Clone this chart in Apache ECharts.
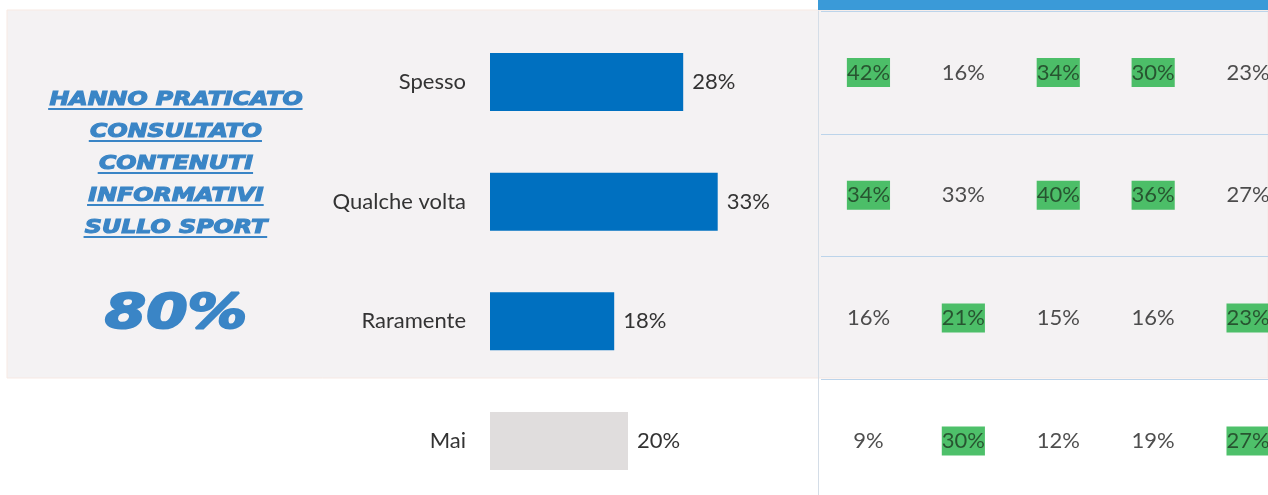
<!DOCTYPE html>
<html>
<head>
<meta charset="utf-8">
<script src="https://cdn.jsdelivr.net/npm/echarts@6/dist/echarts.min.js"></script>
<style>
  html, body { margin: 0; padding: 0; background: #fff; }
  #main { width: 1268px; height: 495px; }
</style>
</head>
<body>
<div id="main"></div>
<script>
// dati del grafico
var categorie = ['Spesso', 'Qualche volta', 'Raramente', 'Mai'];
var valori = [28, 33, 18, 20];
var titoloRighe = ['HANNO PRATICATO', 'CONSULTATO', 'CONTENUTI', 'INFORMATIVI', 'SULLO SPORT'];
var totale = '80%';

// tabella a destra: una riga per categoria, cinque colonne
var tabella = [
  [42, 16, 34, 30, 23],
  [34, 33, 40, 36, 27],
  [16, 21, 15, 16, 23],
  [9, 30, 12, 19, 27]
];
var evidenziati = [
  [1, 0, 1, 1, 0],
  [1, 0, 1, 1, 0],
  [0, 1, 0, 0, 1],
  [0, 1, 0, 0, 1]
];

var myChart = echarts.init(document.getElementById('main'));

/* misura del testo per le sottolineature */
var ctx = document.createElement('canvas').getContext('2d');
var fontTitolo = 'italic bold 19px "DejaVu Sans"';
ctx.font = fontTitolo;

var blu = '#3a85c6';
var grafica = [
  { type: 'rect', z: -10, shape: { x: 7, y: 10, width: 1261, height: 368 },
    style: { fill: '#f4f2f3', stroke: '#f7e9e3', lineWidth: 1 } },
  { type: 'rect', z: -9, shape: { x: 818, y: 0, width: 450, height: 10 },
    style: { fill: '#3a9ad8' } }
];
titoloRighe.forEach(function (t, i) {
  var w = ctx.measureText(t).width;
  grafica.push({
    type: 'group', x: 176, y: 100 + i * 32, scaleX: 1.25,
    children: [
      { type: 'text', style: { text: t, x: 0, y: 0, align: 'center', verticalAlign: 'middle',
          font: fontTitolo, fill: blu, stroke: blu, lineWidth: 1.1 } },
      { type: 'rect', shape: { x: -w / 2 - 1, y: 8, width: w + 1, height: 2 }, style: { fill: blu } }
    ]
  });
});
grafica.push({
  type: 'text', x: 176, y: 316, scaleX: 1.24,
  style: { text: totale, align: 'center', verticalAlign: 'middle',
    font: 'italic bold 48px "DejaVu Sans"', fill: blu, stroke: blu, lineWidth: 2 }
});

/* dati tabella */
var datiTabella = [];
tabella.forEach(function (riga, r) {
  riga.forEach(function (v, c) {
    var item = { value: [c, r, v] };
    if (evidenziati[r][c]) {
      item.label = { backgroundColor: '#22b045', color: '#1e3a22', padding: [4, 0, 3, 0] };
    }
    datiTabella.push(item);
  });
});

var option = {
  animation: false,
  graphic: grafica,
  grid: [
    { left: 490, top: 82, width: 690, height: 359 },
    { left: 821, top: 11, width: 447, height: 484 }
  ],
  xAxis: [
    { gridIndex: 0, type: 'value', min: 0, max: 100, show: false },
    { gridIndex: 1, type: 'value', min: -0.5, max: 4.21, show: false }
  ],
  yAxis: [
    {
      gridIndex: 0, type: 'category', inverse: true, data: categorie, boundaryGap: false,
      axisLine: { show: false }, axisTick: { show: false },
      axisLabel: { margin: 24, fontSize: 22, color: '#333', fontFamily: 'Lato' }
    },
    {
      gridIndex: 1, type: 'value', inverse: true, min: -0.5, max: 3.44, interval: 1, offset: 3,
      axisLine: { show: true, onZero: false, lineStyle: { color: '#d4dde7', width: 1 } },
      axisTick: { show: false }, axisLabel: { show: false },
      splitLine: { show: true, lineStyle: { color: '#bcd4ea', width: 1 } }
    }
  ],
  series: [
    {
      type: 'bar', xAxisIndex: 0, yAxisIndex: 0, barWidth: 58,
      data: valori.map(function (v, i) {
        return { value: v, itemStyle: { color: i === 3 ? '#e0dddd' : '#0070c0' } };
      }),
      label: { show: true, position: 'right', distance: 9, formatter: '{c}%',
        fontSize: 22, color: '#333', fontFamily: 'Lato' }
    },
    {
      type: 'scatter', xAxisIndex: 1, yAxisIndex: 1, symbolSize: 1,
      itemStyle: { color: 'rgba(0,0,0,0)' },
      data: datiTabella,
      label: {
        show: true, position: 'inside', fontSize: 22, color: '#222', fontFamily: 'Lato',
        formatter: function (p) { return p.value[2] + '%'; }
      }
    }
  ]
};

myChart.setOption(option);
</script>
</body>
</html>
